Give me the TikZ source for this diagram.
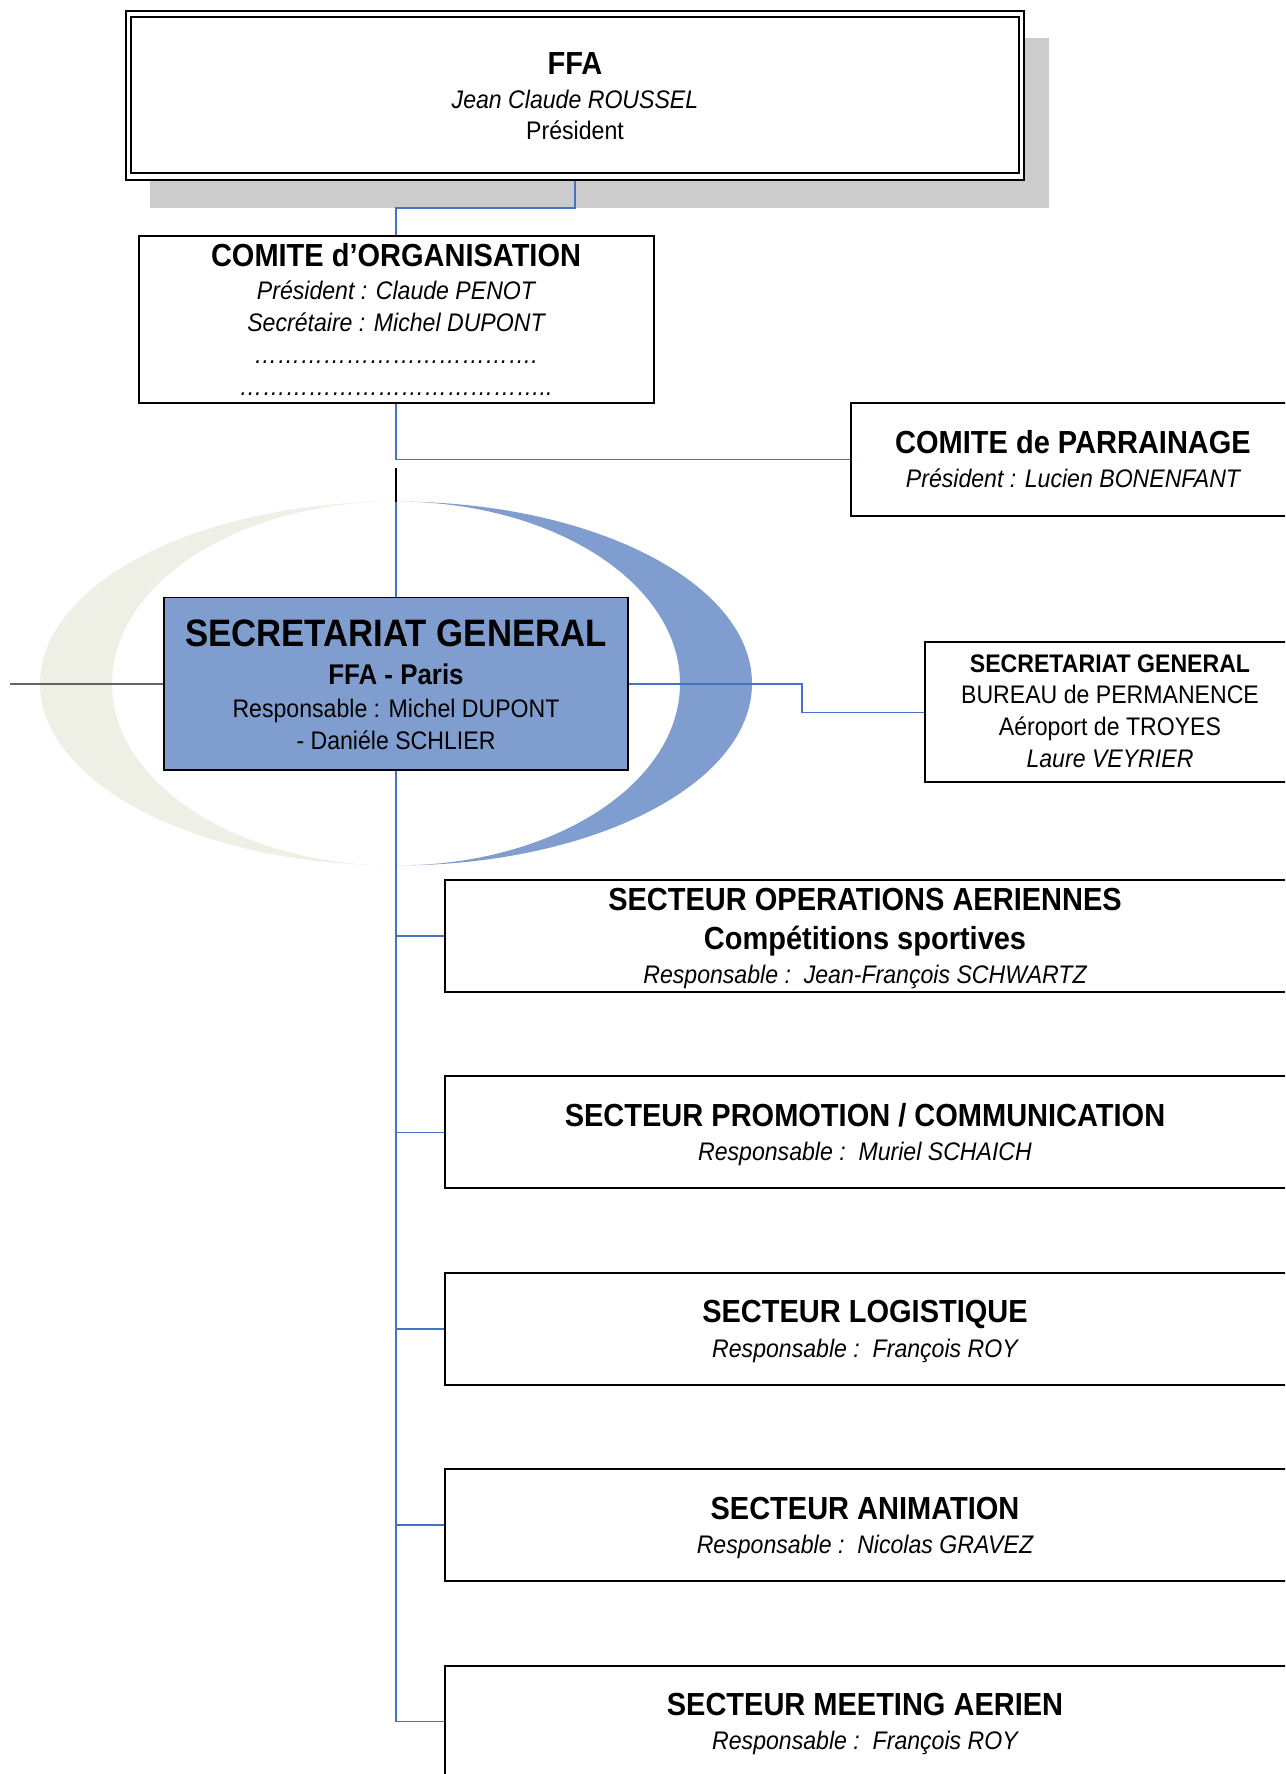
\documentclass[tikz,border=0pt]{standalone}
\usepackage{fontspec}
\setmainfont{Liberation Sans}
\definecolor{lineblue}{RGB}{68,114,196}
\definecolor{sgblue}{RGB}{127,158,207}
\definecolor{palegreen}{RGB}{238,240,230}
\definecolor{shadowgray}{RGB}{204,204,204}
\definecolor{leftgray}{RGB}{100,100,100}
\newcommand{\vsc}[1]{\scalebox{1}[1.1]{#1}}
\newcommand{\elp}{…}
\tikzset{
  box/.style={rectangle, draw=black, line width=2pt, fill=white, inner sep=0pt},
  conn/.style={draw=lineblue, line width=1.6pt},
  txt/.style={inner sep=0pt, anchor=base},
  hb/.style={txt, font={\fontsize{29}{30}\selectfont\bfseries}},
  hi/.style={txt, font={\fontsize{23.1}{25}\selectfont\itshape}},
  hr/.style={txt, font={\fontsize{23.1}{25}\selectfont}},
  hsb/.style={txt, font={\fontsize{23.1}{25}\selectfont\bfseries}},
  hbig/.style={txt, font={\fontsize{34.75}{36}\selectfont\bfseries}},
  hmid/.style={txt, font={\fontsize{25.9}{27}\selectfont\bfseries}},
}
\begin{document}
\begin{tikzpicture}[x=1pt,y=-1pt]
\useasboundingbox (0,0) rectangle (1285,1774);
\clip (0,0) rectangle (1285,1774);

% shadow of the FFA box
\fill[shadowgray] (150,38) rectangle (1049,208);

% crescents round the secretariat
\begin{scope}
  \clip (0,450) rectangle (396,900);
  \fill[palegreen, even odd rule] (396,683.5) ellipse [x radius=356, y radius=182]
                                  (396,683.5) ellipse [x radius=284, y radius=182];
\end{scope}
\begin{scope}
  \clip (396,450) rectangle (800,900);
  \fill[sgblue, even odd rule] (396,683.5) ellipse [x radius=356, y radius=182]
                               (396,683.5) ellipse [x radius=284, y radius=182];
\end{scope}

% boxes
\node[box, minimum width=898pt, minimum height=169pt] (ffa) at (575,95.5) {};
\node[rectangle, draw=black, line width=2pt, inner sep=0pt, minimum width=888pt, minimum height=156.3pt] (ffain) at (575,95.15) {};
\node[box, minimum width=515pt, minimum height=167pt] (co) at (396,319.2) {};
\node[box, minimum width=436pt, minimum height=113pt] (cp) at (1069,459.5) {};
\node[box, fill=sgblue, line width=1.5pt, minimum width=464pt, minimum height=172.3pt] (sg) at (396,683.85) {};
\node[box, minimum width=362pt, minimum height=140pt] (sgb) at (1106,712.3) {};
\foreach \i/\y in {1/936, 2/1132.4, 3/1328.8, 4/1525.2, 5/1721.6}
  \node[box, minimum width=842pt, minimum height=112pt] (s\i) at (866,\y) {};

% connectors
\draw[conn] (ffa.south) -- +(0,27) -| (co.north);
\coordinate (j1) at (co.south |- cp.west);
\draw[conn] (co.south) -- (j1) -- (cp.west);
\coordinate (bk1) at (396,468);
\coordinate (bk2) at (396,502);
\draw[black, line width=1.5pt] (bk1) -- (bk2);
\draw[conn] (bk2) -- (sg.north);
\coordinate (lg) at (10,683.85);
\draw[leftgray, line width=1.5pt] (lg) -- (sg.west);
\draw[conn] (sg.east) -- ++(173,0) |- (sgb.west);
\draw[conn] (sg.south) -- (sg.south |- s5.west);
\foreach \i in {1,...,5}
  \draw[conn] (sg.south |- s\i.west) -- (s\i.west);

% texts: FFA
\node[hb] (t01) at (575,74.4) {\vsc{FFA}};
\node[hi] (t02) at (575,108.3) {\vsc{Jean Claude ROUSSEL}};
\node[hr] (t03) at (575,139.1) {\vsc{Président}};
% comite d'organisation
\node[hb] (t04) at (396,266.4) {\vsc{COMITE d’ORGANISATION}};
\node[hi] (t05) at (396,299.6) {\vsc{Président : Claude PENOT}};
\node[hi] (t06) at (396,331.1) {\vsc{Secrétaire : Michel DUPONT}};
\node[hi] (t07) at (396,363) {\vsc{\elp\elp\elp\elp\elp\elp\elp\elp\elp\elp\elp\elp.}};
\node[hi] (t08) at (396,395) {\vsc{\elp\elp\elp\elp\elp\elp\elp\elp\elp\elp\elp\elp\elp..}};
% comite de parrainage
\node[hb] (t09) at (1073,453.4) {\vsc{COMITE de PARRAINAGE}};
\node[hi] (t10) at (1073,487.6) {\vsc{Président : Lucien BONENFANT}};
% secretariat general
\node[hbig] (t11) at (396,646.2) {\vsc{SECRETARIAT GENERAL}};
\node[hmid] (t12) at (396,684.2) {\vsc{FFA - Paris}};
\node[hr] (t13) at (396,717.4) {\vsc{Responsable : Michel DUPONT}};
\node[hr] (t14) at (396,749.4) {\vsc{- Daniéle SCHLIER}};
% bureau de permanence
\node[hsb] (t15) at (1110,672.4) {\vsc{SECRETARIAT GENERAL}};
\node[hr] (t16) at (1110,703.6) {\vsc{BUREAU de PERMANENCE}};
\node[hr] (t17) at (1110,735.3) {\vsc{Aéroport de TROYES}};
\node[hi] (t18) at (1110,767.1) {\vsc{Laure VEYRIER}};
% sectors
\node[hb] (t19) at (865,910.4) {\vsc{SECTEUR OPERATIONS AERIENNES}};
\node[hb] (t20) at (865,949.9) {\vsc{Compétitions sportives}};
\node[hi] (t21) at (865,983.1) {\vsc{Responsable :~~Jean-François SCHWARTZ}};
\node[hb] (t22) at (865,1126.3) {\vsc{SECTEUR PROMOTION / COMMUNICATION}};
\node[hi] (t23) at (865,1160.7) {\vsc{Responsable :~~Muriel SCHAICH}};
\node[hb] (t24) at (865,1322.7) {\vsc{SECTEUR LOGISTIQUE}};
\node[hi] (t25) at (865,1357.1) {\vsc{Responsable :~~François ROY}};
\node[hb] (t26) at (865,1519.1) {\vsc{SECTEUR ANIMATION}};
\node[hi] (t27) at (865,1553.5) {\vsc{Responsable :~~Nicolas GRAVEZ}};
\node[hb] (t28) at (865,1715.5) {\vsc{SECTEUR MEETING AERIEN}};
\node[hi] (t29) at (865,1749.9) {\vsc{Responsable :~~François ROY}};
\end{tikzpicture}
\end{document}
